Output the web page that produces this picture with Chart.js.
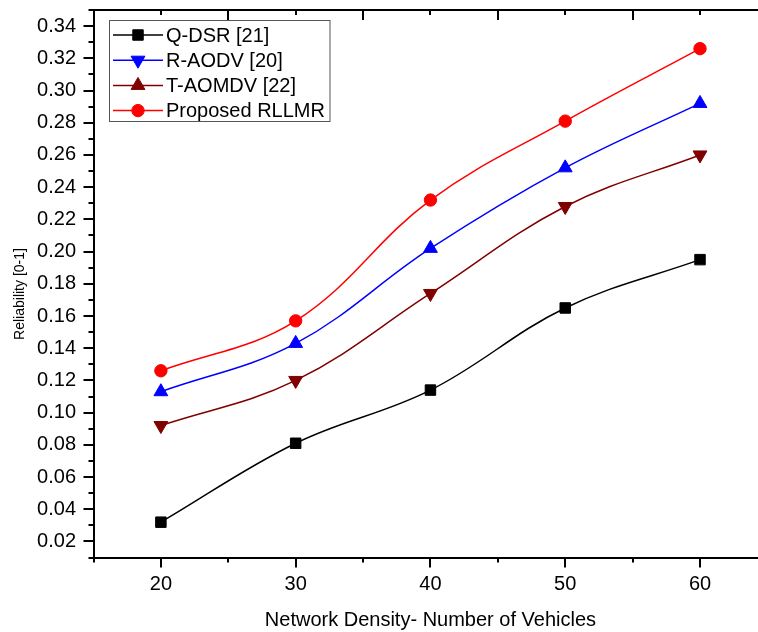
<!DOCTYPE html>
<html>
<head>
<meta charset="utf-8">
<title>Reliability vs Network Density</title>
<script src="https://cdn.jsdelivr.net/npm/chart.js@4.4.0/dist/chart.umd.min.js"></script>
<style>
  html, body { margin: 0; padding: 0; background: #fff; overflow: hidden; }
  #wrap { width: 780px; height: 632px; }
</style>
</head>
<body>
<div id="wrap"><canvas id="reliabilityChart" width="780" height="632"></canvas></div>
<script>
// vehicles per scenario and reliability of each routing scheme
const vehicles = [20, 30, 40, 50, 60];
const qdsr = [0.032, 0.081, 0.114, 0.165, 0.195];
const raodv = [0.113, 0.143, 0.202, 0.252, 0.292];
const taomdv = [0.092, 0.120, 0.174, 0.228, 0.260];
const rllmr = [0.126, 0.157, 0.232, 0.281, 0.326];

const xTicks = [20, 30, 40, 50, 60];
const yTicks = [0.02, 0.04, 0.06, 0.08, 0.10, 0.12, 0.14, 0.16, 0.18, 0.20,
                0.22, 0.24, 0.26, 0.28, 0.30, 0.32, 0.34];

const FONT = "'Liberation Sans', Arial, sans-serif";

function pts(values) {
  return vehicles.map((v, i) => ({ x: v, y: values[i] }));
}

function series(label, values, color, style, radius, rotation, legendRotation) {
  return {
    label: label,
    data: pts(values),
    borderColor: color,
    backgroundColor: color,
    borderWidth: 1.5,
    pointStyle: style,
    pointRadius: radius,
    pointRotation: rotation,
    pointBorderWidth: 1,
    pointBackgroundColor: color,
    pointBorderColor: color,
    tension: 0.38,
    legendRotation: legendRotation
  };
}

// no label overflow padding, so the plot frame sits where the layout puts it
function noOverflow(s) {
  s.paddingTop = 0;
  s.paddingBottom = 0;
  s.paddingLeft = 0;
  s.paddingRight = 0;
}

// frame ticks (in + out), legend box and y title
const framePlugin = {
  id: 'frame',
  afterDraw(chart) {
    const { ctx, chartArea: a, scales } = chart;
    const x = scales.x, y = scales.y;
    ctx.save();
    ctx.strokeStyle = '#000';
    ctx.lineWidth = 2;
    ctx.beginPath();
    ctx.moveTo(a.left - 1, a.top);
    ctx.lineTo(a.right + 1, a.top);
    ctx.moveTo(a.right, a.top);
    ctx.lineTo(a.right, a.bottom);
    for (let k = 0; k <= 10; k++) {
      const v = 15 + 5 * k;
      const px = Math.round(x.getPixelForValue(v));
      const major = v % 10 === 0;
      ctx.moveTo(px, a.bottom);
      ctx.lineTo(px, a.bottom + (major ? 10 : 5));
      if (k > 0) {
        ctx.moveTo(px, a.top);
        ctx.lineTo(px, a.top + (major ? 5 : 10));
      }
    }
    for (let k = 1; k <= 35; k++) {
      const py = Math.round(y.getPixelForValue(k / 100));
      const len = k % 2 === 0 ? 10 : 5;
      ctx.moveTo(a.left, py);
      ctx.lineTo(a.left - len, py);
    }
    ctx.stroke();

    // y axis title
    ctx.save();
    ctx.translate(20, 294);
    ctx.rotate(-Math.PI / 2);
    ctx.fillStyle = '#000';
    ctx.font = '14px ' + FONT;
    ctx.textAlign = 'center';
    ctx.textBaseline = 'middle';
    ctx.fillText('Reliability [0-1]', 0, 0);
    ctx.restore();

    // legend
    const box = { left: 109.5, top: 20.5, width: 220.5, height: 101 };
    ctx.strokeStyle = '#555';
    ctx.lineWidth = 1;
    ctx.strokeRect(box.left, box.top, box.width, box.height);
    ctx.font = '20px ' + FONT;
    ctx.textAlign = 'left';
    ctx.textBaseline = 'middle';
    chart.data.datasets.forEach((ds, i) => {
      const ry = 35 + i * 25.2;
      ctx.strokeStyle = ds.borderColor;
      ctx.fillStyle = ds.backgroundColor;
      ctx.lineWidth = 1.5;
      ctx.beginPath();
      ctx.moveTo(113, ry);
      ctx.lineTo(163, ry);
      ctx.stroke();
      ctx.lineWidth = 1;
      Chart.helpers.drawPoint(ctx, {
        pointStyle: ds.pointStyle,
        radius: ds.pointRadius,
        rotation: ds.legendRotation,
        borderWidth: 1
      }, 138, ry);
      ctx.fillStyle = '#000';
      ctx.fillText(ds.label, 166, ry + 1);
    });
    ctx.restore();
  }
};

new Chart(document.getElementById('reliabilityChart'), {
  type: 'line',
  data: {
    datasets: [
      series('Q-DSR [21]', qdsr, '#000000', 'rect', 7.4, 0, 0),
      series('R-AODV [20]', raodv, '#0000ff', 'triangle', 8, 0, 180),
      series('T-AOMDV [22]', taomdv, '#800000', 'triangle', 8, 180, 0),
      series('Proposed RLLMR', rllmr, '#ff0000', 'circle', 6.2, 0, 0)
    ]
  },
  options: {
    responsive: false,
    devicePixelRatio: 1,
    animation: false,
    layout: { padding: { left: 0, right: 12.6, top: 10, bottom: 0 } },
    plugins: {
      legend: { display: false },
      tooltip: { enabled: false }
    },
    scales: {
      x: {
        type: 'linear',
        min: 15,
        max: 65,
        afterBuildTicks: s => { s.ticks = xTicks.map(v => ({ value: v })); },
        afterFit: s => { s.height = 74.4; noOverflow(s); },
        grid: { drawOnChartArea: false, drawTicks: false },
        border: { color: '#000', width: 2 },
        ticks: {
          color: '#000',
          padding: 15,
          maxRotation: 0,
          autoSkip: false,
          font: { family: FONT, size: 20 }
        },
        title: {
          display: true,
          text: 'Network Density- Number of Vehicles',
          color: '#000',
          padding: { top: 0, bottom: 0 },
          font: { family: FONT, size: 20 }
        }
      },
      y: {
        type: 'linear',
        min: 0.01,
        max: 0.35,
        afterBuildTicks: s => { s.ticks = yTicks.map(v => ({ value: v })); },
        afterFit: s => { s.width = 93.5; noOverflow(s); },
        grid: { drawOnChartArea: false, drawTicks: false },
        border: { color: '#000', width: 2 },
        ticks: {
          color: '#000',
          padding: 17.5,
          autoSkip: false,
          font: { family: FONT, size: 20 },
          callback: v => v.toFixed(2)
        }
      }
    }
  },
  plugins: [framePlugin]
});
</script>
</body>
</html>
